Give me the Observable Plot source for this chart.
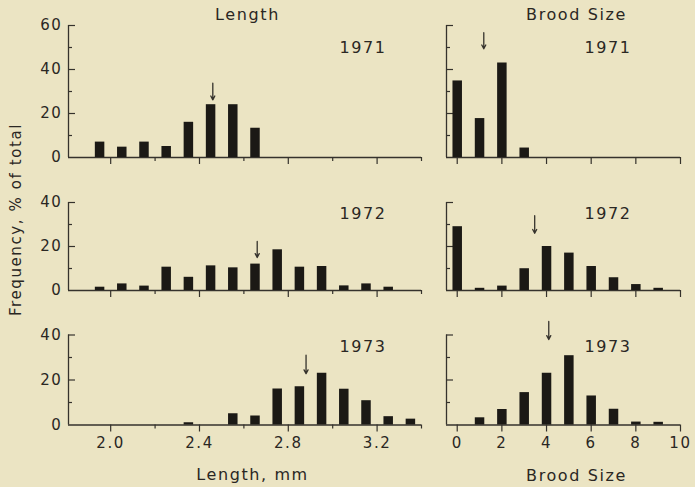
<!DOCTYPE html>
<html>
<head>
<meta charset="utf-8">
<script src="https://cdn.jsdelivr.net/npm/d3@7"></script>
<script src="https://cdn.jsdelivr.net/npm/@observablehq/plot@0.6"></script>
<style>
  html, body { margin: 0; padding: 0; background: #ebe4c3; }
  #chart { position: relative; width: 695px; height: 487px; background: #ebe4c3; overflow: hidden; }
  #chart svg { position: absolute; overflow: visible; }
  g[aria-label="year"] text { letter-spacing: 1.5px; }
  g[aria-label="title-length"] text { letter-spacing: 1.2px; }
  g[aria-label="title-brood"] text { letter-spacing: 1.9px; }
  g[aria-label="ylabel"] text { letter-spacing: 3.4px; }
</style>
</head>
<body>
<div id="chart"></div>
<script>
// ---- data ----
const years = [1971, 1972, 1973];
// length classes (mm, class mid-points)
const lengthMid = [1.95, 2.05, 2.15, 2.25, 2.35, 2.45, 2.55, 2.65, 2.75, 2.85, 2.95, 3.05, 3.15, 3.25, 3.35];
const length1971 = [7, 4.7, 7, 5, 16, 24, 24, 13.3, 0, 0, 0, 0, 0, 0, 0];
const length1972 = [1.5, 3, 2, 10.6, 6, 11.2, 10.3, 12, 18.5, 10.6, 10.9, 2.1, 3, 1.5, 0];
const length1973 = [0, 0, 0, 0, 1, 0, 5, 4, 16, 17, 23, 15.9, 10.8, 3.7, 2.6];
// brood size classes
const broodClass = [0, 1, 2, 3, 4, 5, 6, 7, 8, 9];
const brood1971 = [34.8, 17.7, 43, 4.3, 0, 0, 0, 0, 0, 0];
const brood1972 = [29, 1, 2, 9.9, 20, 17, 10.9, 5.8, 2.7, 1];
const brood1973 = [0, 3.2, 6.9, 14.4, 23, 30.8, 12.9, 7, 1.3, 1.2];
// mean markers (arrows): x position, arrow top and tip (in % units)
const lengthMean = [2.46, 2.66, 2.88];
const lengthArrowTop = [33.8, 22.3, 31];
const lengthArrowTip = [26.2, 15, 22.8];
const broodMean = [1.19, 3.47, 4.1];
const broodArrowTop = [56.7, 34, 46];
const broodArrowTip = [49.4, 26, 38];
// tick values
const lengthMajorTicks = [2.0, 2.4, 2.8, 3.2];
const lengthMinorTicks = [2.2, 2.6, 3.0, 3.4];
const broodTicks = [0, 2, 4, 6, 8, 10];
const yTicksTop = [0, 20, 40, 60];
const yTicksLow = [0, 20, 40];
const yMinorTop = [10, 30, 50];
const yMinorLow = [10, 30];

const AX = "#35322c", BAR = "#1b1915", TXT = "#2a2723";
const chart = document.getElementById("chart");

function panel(o) {
  const fw = o.width - o.ml - o.mr;
  const data = o.mids.map((m, i) => ({mid: m, v: o.vals[i]})).filter(d => d.v > 0);
  const marks = [
    Plot.ruleY([0], {stroke: AX, strokeWidth: 1.3}),
    Plot.ruleX([o.xDomain[0]], {y1: 0, y2: o.yMax, stroke: AX, strokeWidth: 1.3}),
    Plot.tickY(o.yMajor.filter(d => d > 0), {y: d => d, insetRight: fw - 7, stroke: AX, strokeWidth: 1.2}),
    Plot.tickY(o.yMinor, {y: d => d, insetRight: fw - 4, stroke: AX, strokeWidth: 1.2}),
    Plot.axisX({ticks: o.xMajor, tickSize: 7, tickPadding: 5, tickFormat: o.fmt, label: null,
      stroke: AX, strokeWidth: 1.2, fill: o.showX ? TXT : "none"}),
    Plot.ruleX(data, {x: "mid", y1: 0, y2: "v", stroke: BAR, strokeWidth: 9.5}),
    Plot.arrow([o.arrow], {x1: "x", x2: "x", y1: "top", y2: "tip", stroke: AX, strokeWidth: 1.3, headLength: 5, headAngle: 55}),
    Plot.text([o.year], {frameAnchor: "top-left", dx: o.yearDx, dy: o.yearDy, text: d => String(d),
      textAnchor: "start", lineAnchor: "middle", fontSize: 16, fill: TXT, ariaLabel: "year"})
  ];
  if (o.xMinor.length) {
    marks.push(Plot.axisX({ticks: o.xMinor, tickSize: 4, label: null, stroke: AX, strokeWidth: 1.2, fill: "none"}));
  }
  if (o.yLabels) {
    marks.push(Plot.axisY({ticks: o.yLabels, tickSize: 0, tickPadding: 6, label: null, fill: TXT}));
  }
  if (o.extra) marks.push(...o.extra);
  const svg = Plot.plot({
    width: o.width, height: o.height,
    marginLeft: o.ml, marginRight: o.mr, marginTop: o.mt, marginBottom: o.mb,
    x: {domain: o.xDomain},
    y: o.yLabels ? {domain: [0, o.yMax]} : {domain: [0, o.yMax], axis: null},
    style: {
      position: "absolute", left: o.left + "px", top: o.top + "px",
      background: "transparent", overflow: "visible", color: TXT,
      fontFamily: "DejaVu Sans", fontSize: "15px", letterSpacing: "1.6px"
    },
    marks
  });
  chart.appendChild(svg);
}

const rows = [
  {top: 0, height: 175, mt: 25, mb: 18, yMax: 60, yMajor: [20, 40, 60], yMinor: yMinorTop, yLabels: yTicksTop, yearDy: 22},
  {top: 180, height: 120, mt: 22, mb: 10, yMax: 40, yMajor: [20, 40], yMinor: yMinorLow, yLabels: yTicksLow, yearDy: 11},
  {top: 320, height: 167, mt: 14.5, mb: 62.5, yMax: 40, yMajor: [20, 40], yMinor: yMinorLow, yLabels: yTicksLow, yearDy: 11.5}
];
const lengthVals = [length1971, length1972, length1973];
const broodVals = [brood1971, brood1972, brood1973];

rows.forEach((r, i) => {
  const bottom = i === 2;
  // Length panel
  const lExtra = [];
  if (i === 0) lExtra.push(Plot.text(["Length"], {frameAnchor: "top", dx: 2.5, dy: -11, text: d => d,
    lineAnchor: "middle", fontSize: 16, fill: TXT, ariaLabel: "title-length"}));
  if (i === 1) lExtra.push(Plot.text(["Frequency, % of total"], {frameAnchor: "left", dx: -52, dy: -27, rotate: -90,
    text: d => d, textAnchor: "middle", lineAnchor: "middle", fontSize: 15, fill: TXT, ariaLabel: "ylabel"}));
  if (bottom) lExtra.push(Plot.text(["Length, mm"], {frameAnchor: "bottom", dx: 7.5, dy: 49.5, text: d => d,
    lineAnchor: "middle", fontSize: 16, fill: TXT, ariaLabel: "title-length"}));
  panel({
    left: 0, width: 440, ml: 68, mr: 19, top: r.top, height: r.height, mt: r.mt, mb: r.mb,
    xDomain: [1.81, 3.4], yMax: r.yMax, yMajor: r.yMajor, yMinor: r.yMinor, yLabels: r.yLabels,
    mids: lengthMid, vals: lengthVals[i],
    xMajor: lengthMajorTicks, xMinor: lengthMinorTicks, fmt: d3.format(".1f"), showX: bottom,
    arrow: {x: lengthMean[i], top: lengthArrowTop[i], tip: lengthArrowTip[i]},
    year: years[i], yearDx: 271, yearDy: r.yearDy, extra: lExtra
  });
  // Brood size panel
  const bExtra = [];
  if (i === 0) bExtra.push(Plot.text(["Brood Size"], {frameAnchor: "top", dx: 13, dy: -11, text: d => d,
    lineAnchor: "middle", fontSize: 16, fill: TXT, ariaLabel: "title-brood"}));
  if (bottom) bExtra.push(Plot.text(["Brood Size"], {frameAnchor: "bottom", dx: 13, dy: 50.5, text: d => d,
    lineAnchor: "middle", fontSize: 16, fill: TXT, ariaLabel: "title-brood"}));
  panel({
    left: 400, width: 295, ml: 46, mr: 15, top: r.top, height: r.height, mt: r.mt, mb: r.mb,
    xDomain: [-0.48, 10], yMax: r.yMax, yMajor: r.yMajor, yMinor: r.yMinor, yLabels: null,
    mids: broodClass, vals: broodVals[i],
    xMajor: broodTicks, xMinor: [], fmt: d => String(d), showX: bottom,
    arrow: {x: broodMean[i], top: broodArrowTop[i], tip: broodArrowTip[i]},
    year: years[i], yearDx: 138, yearDy: r.yearDy, extra: bExtra
  });
});
</script>
</body>
</html>
